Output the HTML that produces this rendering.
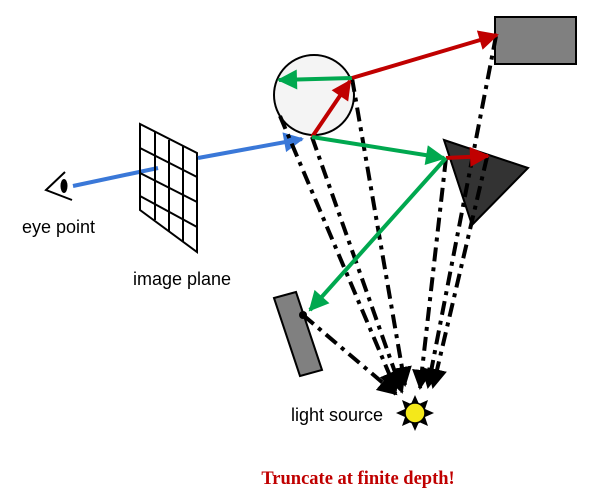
<!DOCTYPE html>
<html><head><meta charset="utf-8"><style>
body{margin:0;background:#fff}
svg{display:block}
text{font-family:"Liberation Sans",sans-serif;font-size:18px}
</style></head><body>
<svg width="610" height="493" viewBox="0 0 610 493">
<defs>
<marker id="ab" viewBox="0 0 10 10" refX="9" refY="5" markerWidth="5.5" markerHeight="5" orient="auto"><path d="M0,0L10,5L0,10z" fill="#3a78d8"/></marker>
<marker id="ar" viewBox="0 0 10 10" refX="9" refY="5" markerWidth="5.5" markerHeight="5" orient="auto"><path d="M0,0L10,5L0,10z" fill="#c00000"/></marker>
<marker id="ag" viewBox="0 0 10 10" refX="9" refY="5" markerWidth="5.5" markerHeight="5" orient="auto"><path d="M0,0L10,5L0,10z" fill="#00a84f"/></marker>
<marker id="ak" viewBox="0 0 10 10" refX="9" refY="5" markerWidth="5" markerHeight="5" orient="auto"><path d="M0,0L10,5L0,10z" fill="#000"/></marker>
</defs>
<g>
<path d="M65,172 L46,190 L72,200" stroke="#000" stroke-width="2" fill="none"/>
<ellipse cx="64" cy="186" rx="3.5" ry="7" fill="#000"/>
</g>
<text x="22" y="233">eye point</text>
<line x1="73" y1="186" x2="158" y2="168" stroke="#3a78d8" stroke-width="4"/>
<g stroke="#000" stroke-width="2" fill="none">
<path d="M140,124 L140,210 L197,252 L197,153 Z"/>
<path d="M155,132 L155,220 M169,140 L169,231 M183,146 L183,242"/>
<path d="M140,148 L197,177 M140,173 L197,202 M140,196 L197,227"/>
</g>
<text x="133" y="285">image plane</text>
<line x1="198" y1="158" x2="302" y2="139" stroke="#3a78d8" stroke-width="4" marker-end="url(#ab)"/>
<circle cx="314" cy="95" r="40" fill="#f4f4f4" stroke="#000" stroke-width="2"/>
<rect x="495" y="17" width="81" height="47" fill="#808080" stroke="#000" stroke-width="2"/>
<polygon points="444,140 528,168 472,225" fill="#333" stroke="#000" stroke-width="2"/>
<polygon points="274,298 296,292 322,370 300,376" fill="#808080" stroke="#000" stroke-width="2"/>
<g stroke="#000" stroke-width="4" stroke-dasharray="14,6,4,6" fill="none" marker-end="url(#ak)">
<line x1="280" y1="116" x2="396" y2="390"/>
<line x1="312" y1="137" x2="402" y2="392"/>
<line x1="352" y1="78" x2="405" y2="385"/>
<line x1="496" y1="36" x2="428" y2="387"/>
<line x1="446" y1="158" x2="420" y2="388"/>
<line x1="487" y1="157" x2="433" y2="387"/>
<line x1="303" y1="315" x2="396" y2="394"/>
</g>
<circle cx="303" cy="315" r="4" fill="#000"/>
<g>
<polygon points="415,395 419,404 428,400 425,409 434,413 425,417 428,426 419,422 415,431 411,422 402,426 405,417 396,413 405,409 402,400 411,404" fill="#000"/>
<circle cx="415" cy="413" r="10" fill="#f4e81a" stroke="#000" stroke-width="1.5"/>
</g>
<text x="291" y="421">light source</text>
<line x1="312" y1="137" x2="350" y2="81" stroke="#c00000" stroke-width="4" marker-end="url(#ar)"/>
<line x1="352" y1="78" x2="279" y2="80" stroke="#00a84f" stroke-width="4" marker-end="url(#ag)"/>
<line x1="352" y1="78" x2="497" y2="35" stroke="#c00000" stroke-width="4" marker-end="url(#ar)"/>
<line x1="312" y1="137" x2="444" y2="158" stroke="#00a84f" stroke-width="4" marker-end="url(#ag)"/>
<line x1="446" y1="158" x2="488" y2="156" stroke="#c00000" stroke-width="4" marker-end="url(#ar)"/>
<line x1="446" y1="158" x2="310" y2="310" stroke="#00a84f" stroke-width="4" marker-end="url(#ag)"/>
<text x="358" y="484" text-anchor="middle" style="font-family:'Liberation Serif',serif;font-weight:bold;font-size:18.5px" fill="#c00000">Truncate at finite depth!</text>
</svg>
</body></html>
